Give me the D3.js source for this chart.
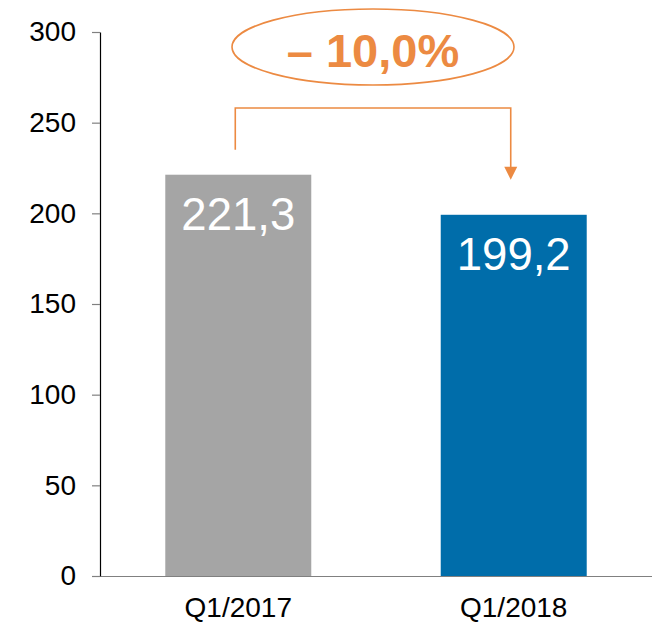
<!DOCTYPE html>
<html>
<head>
<meta charset="utf-8">
<script src="https://cdn.jsdelivr.net/npm/d3@7"></script>
<style>
  html, body { margin: 0; padding: 0; background: #fff; }
  svg { display: block; font-family: "Liberation Sans", Arial, sans-serif; }
</style>
</head>
<body>
<svg id="chart" width="652" height="623"></svg>
<script>
const categories = ["Q1/2017", "Q1/2018"];
const values = [221.3, 199.2];
const valueLabels = ["221,3", "199,2"];
const barColors = ["#A5A5A5", "#006DAA"];
const yTicks = [0, 50, 100, 150, 200, 250, 300];
const changeLabel = "\u2013 10,0%";

const svg = d3.select("#chart");
const orange = "#EC8A42";

const x = d3.scaleBand().domain(categories).range([100, 652]).paddingInner(0.47).paddingOuter(0.237);
const y = d3.scaleLinear().domain([0, 300]).range([576, 32]);

// bars
svg.selectAll("rect.bar").data(values).enter().append("rect")
  .attr("class", "bar")
  .attr("x", (d, i) => x(categories[i]))
  .attr("width", x.bandwidth())
  .attr("y", d => y(d))
  .attr("height", d => y(0) - y(d))
  .attr("fill", (d, i) => barColors[i]);

// value labels
svg.selectAll("text.val").data(values).enter().append("text")
  .attr("class", "val")
  .attr("x", (d, i) => x(categories[i]) + x.bandwidth() / 2)
  .attr("y", d => y(d) + 55)
  .attr("text-anchor", "middle")
  .attr("fill", "#fff")
  .attr("font-size", 45.5)
  .text((d, i) => valueLabels[i]);

// y axis
const yAxis = svg.append("g").attr("transform", "translate(100,0)")
  .call(d3.axisLeft(y).tickValues(yTicks).tickSize(8).tickPadding(16).tickSizeOuter(0));
yAxis.select(".domain").attr("stroke", "#000").attr("stroke-width", 1.2);
yAxis.selectAll(".tick line").attr("stroke", "#808080").attr("stroke-width", 1.2);
yAxis.selectAll(".tick text").attr("font-size", 28).attr("fill", "#000")
  .attr("font-family", "'Liberation Sans', Arial, sans-serif");

// x axis
const xAxis = svg.append("g").attr("transform", "translate(0,576)")
  .call(d3.axisBottom(x).tickSize(0).tickPadding(21).tickSizeOuter(0));
xAxis.select(".domain").attr("stroke", "#808080").attr("stroke-width", 1.2);
xAxis.selectAll(".tick text").attr("font-size", 28).attr("fill", "#000")
  .attr("font-family", "'Liberation Sans', Arial, sans-serif");
yAxis.raise();

// annotation: bracket with arrow
const cx0 = x(categories[0]) + x.bandwidth() / 2 - 3;
const cx1 = x(categories[1]) + x.bandwidth() / 2 - 3;
const bracketY = 108;
const g = svg.append("g");
g.append("path")
  .attr("d", `M${cx0},${y(values[0]) - 25} V${bracketY} H${cx1} V${y(values[1]) - 47}`)
  .attr("fill", "none").attr("stroke", orange).attr("stroke-width", 1.6);
const tipY = y(values[1]) - 35;
g.append("path")
  .attr("d", `M${cx1 - 6.5},${tipY - 13} L${cx1 + 6.5},${tipY - 13} L${cx1},${tipY} Z`)
  .attr("fill", orange);

// ellipse and percentage
const ecx = (cx0 + cx1) / 2;
g.append("ellipse")
  .attr("cx", ecx).attr("cy", 47).attr("rx", 141).attr("ry", 38)
  .attr("fill", "none").attr("stroke", orange).attr("stroke-width", 1.6);
g.append("text")
  .attr("x", ecx).attr("y", 67)
  .attr("text-anchor", "middle")
  .attr("font-size", 47).attr("font-weight", "bold")
  .attr("fill", orange)
  .text(changeLabel);
</script>
</body>
</html>
